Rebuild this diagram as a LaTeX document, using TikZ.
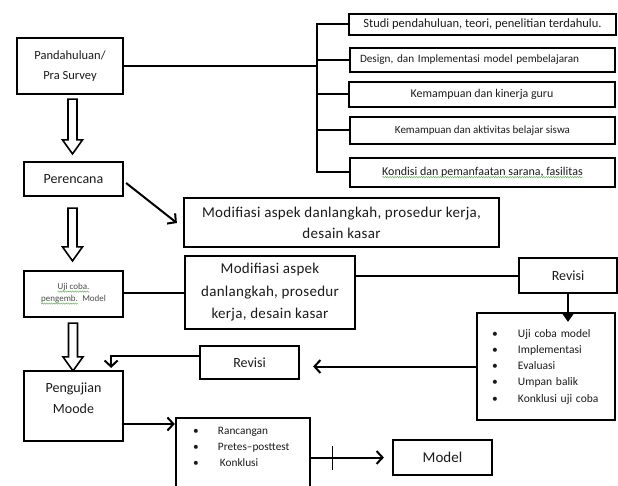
\documentclass[tikz,border=0pt]{standalone}
\usepackage{fontspec}
\setmainfont{Carlito}
\usetikzlibrary{calc,arrows.meta,decorations.pathmorphing}
\definecolor{txt}{HTML}{1A1A1A}
\definecolor{ujitxt}{HTML}{4A4A4A}
\definecolor{squig}{HTML}{5DB350}
\newcommand{\sqw}[1]{\tikz[baseline=(sqwnode.base)]{\node[draw=none, fill=none, shape=rectangle, anchor=center, inner sep=0pt, outer sep=0pt, minimum width=0pt, minimum height=0pt, text width=] (sqwnode) {#1};\draw[squig, line width=0.45pt, decorate, decoration={snake, amplitude=0.7pt, segment length=2.4pt}] ([yshift=-1.8pt]sqwnode.base west) -- ([yshift=-1.8pt]sqwnode.base east);}}
\newcommand{\bul}{\makebox[26pt][l]{\textbullet}}
\newcommand{\bulr}{\makebox[25pt][l]{\textbullet}}
\newcommand{\hollowarrow}[2]{\draw[hol] ($(#1)+(-4.5,0)$) -- ($(#2)+(-4.5,-14)$) -- ($(#2)+(-10,-14)$) -- (#2) -- ($(#2)+(10,-14)$) -- ($(#2)+(4.5,-14)$) -- ($(#1)+(4.5,0)$) -- cycle;}
\begin{document}
\begin{tikzpicture}[x=1pt,y=-1pt,
  box/.style={draw=black, line width=2.2pt, inner sep=0pt, text=txt, align=center},
  conn/.style={line width=2pt},
  barb/.style={conn, -{Straight Barb[length=6pt,width=13pt]}},
  hol/.style={line width=1.6pt, fill=white, line join=miter},
  modfont/.style={font=\fontsize{15}{#1}\selectfont\addfontfeatures{LetterSpace=2}}]
\useasboundingbox (0,0) rectangle (618,486);
\clip (0,0) rectangle (618,486);
% left column
\node[box, minimum width=106pt, minimum height=56pt, font=\fontsize{12.5}{20}\selectfont] (pand) at (70,66) {Pandahuluan/\\Pra Survey};
\node[box, minimum width=99pt, minimum height=34pt, font=\fontsize{14}{17}\selectfont] (per) at (73.5,179) {Perencana};
\node[box, minimum width=99pt, minimum height=46pt, text=ujitxt, font=\fontsize{9}{12}\selectfont] (uji) at (73.5,294) {\sqw{Uji coba.}\\\sqw{pengemb.}\ \ Model};
\node[box, minimum width=99pt, minimum height=70pt, font=\fontsize{14}{21}\selectfont] (peng) at (73.5,406) {Pengujian\\Moode\\[-11pt]\strut};
% right column
\node[box, font=\fontsize{12.5}{14}\selectfont, minimum width=267pt, minimum height=21pt] (r1) at (482.5,24.5) {Studi pendahuluan, teori, penelitian terdahulu.};
\node[box, font=\fontsize{11.2}{13}\selectfont, minimum width=265pt, minimum height=24pt, text width=245pt, align=left] (r2) at (482.5,60) {Design, dan Implementasi model pembelajaran};
\node[box, font=\fontsize{11.9}{13}\selectfont, minimum width=266pt, minimum height=25pt] (r3) at (482,94.5) {Kemampuan dan kinerja guru};
\node[box, font=\fontsize{11}{13}\selectfont, minimum width=265pt, minimum height=27pt] (r4) at (482.5,130.5) {Kemampuan dan aktivitas belajar siswa};
\node[box, font=\fontsize{12}{13}\selectfont, minimum width=265pt, minimum height=29pt] (r5) at (482.5,172.5) {\sqw{Kondisi dan pemanfaatan sarana, fasilitas}};
% middle
\node[box, minimum width=315pt, minimum height=49pt, modfont=21] (mod1) at (341.5,222.5) {Modifiasi aspek danlangkah, prosedur kerja,\\desain kasar};
\node[box, minimum width=170pt, minimum height=73pt, modfont=22.5] (mod2) at (270,292.5) {Modifiasi aspek\\danlangkah, prosedur\\kerja, desain kasar};
\node[box, minimum width=98pt, minimum height=35pt, font=\fontsize{14}{17}\selectfont] (rev1) at (568,275.5) {Revisi};
\node[box, minimum width=138pt, minimum height=107pt, text width=108pt, align=left, font=\fontsize{11.5}{16.25}\selectfont] (list) at (546,366.5) {\bul Uji coba model\\\bul Implementasi\\\bul Evaluasi\\\bul Umpan balik\\\bul Konklusi uji coba};
\node[box, minimum width=99pt, minimum height=33pt, font=\fontsize{14}{17}\selectfont] (rev2) at (249.5,362.5) {Revisi};
\node[minimum width=134pt, minimum height=58pt, inner sep=0pt, text width=100pt, align=left, text=txt, font=\fontsize{11.3}{16}\selectfont] (ranc) at (243,447) {\bulr Rancangan\\\bulr Pretes\textendash posttest\\\bulr\hspace{2pt}Konklusi};
\node[box, minimum width=99pt, minimum height=35pt, font=\fontsize{15}{18}\selectfont] (model) at (442.5,457.5) {Model};
\draw[line width=2.2pt] ($(ranc.south west)+(0,14)$) -- (ranc.north west) -- (ranc.north east) -- ($(ranc.south east)+(0,14)$);
% bracket
\coordinate (bx) at (317,0);
\draw[conn] (pand.east) -- (pand.east -| bx);
\draw[conn] (r1.west) -- (r1.west -| bx) -- (r5.west -| bx) -- (r5.west);
\foreach \n in {r2,r3,r4} \draw[conn] (\n.west) -- (\n.west -| bx);
% hollow arrows
\coordinate (h1s) at ($(pand.south)+(2.5,4)$);
\coordinate (h1e) at ($(per.north)+(-1,-7)$);
\coordinate (h2s) at ($(per.south)+(-1,11)$);
\coordinate (h2e) at ($(uji.north)+(-1,-9)$);
\coordinate (h3s) at ($(uji.south)+(-0.5,5)$);
\coordinate (h3e) at ($(peng.north)+(-0.5,1)$);
\hollowarrow{h1s}{h1e}
\hollowarrow{h2s}{h2e}
\hollowarrow{h3s}{h3e}
% connectors
\draw[barb] ($(per.east)+(2,4)$) -- ($(mod1.west)+(-6,0.5)$);
\draw[conn] (mod2.west -| uji.east) -- (mod2.west);
\draw[conn] (rev1.west -| mod2.east) -- (rev1.west);
\draw[conn, -{Triangle[length=9pt,width=12pt]}] (rev1.south) -- ($(rev1.south |- list.north)+(0,10)$);
\draw[barb] (list.west) -- ($(list.west -| rev2.east)+(13,0)$);
\draw[barb] ($(rev2.west)+(0,-6.5)$) -| ($(peng.north east)+(-13,-2)$);
\draw[barb] ($(peng.east)+(0,18)$) -- ($(peng.east -| ranc.west)+(-1,18)$);
\draw[barb] (model.west -| ranc.east) -- ($(model.west)+(-8,0)$);
\draw[line width=0.8pt] ($(model.west -| ranc.east)+(22,-12)$) -- ++(0,24);
\end{tikzpicture}
\end{document}
